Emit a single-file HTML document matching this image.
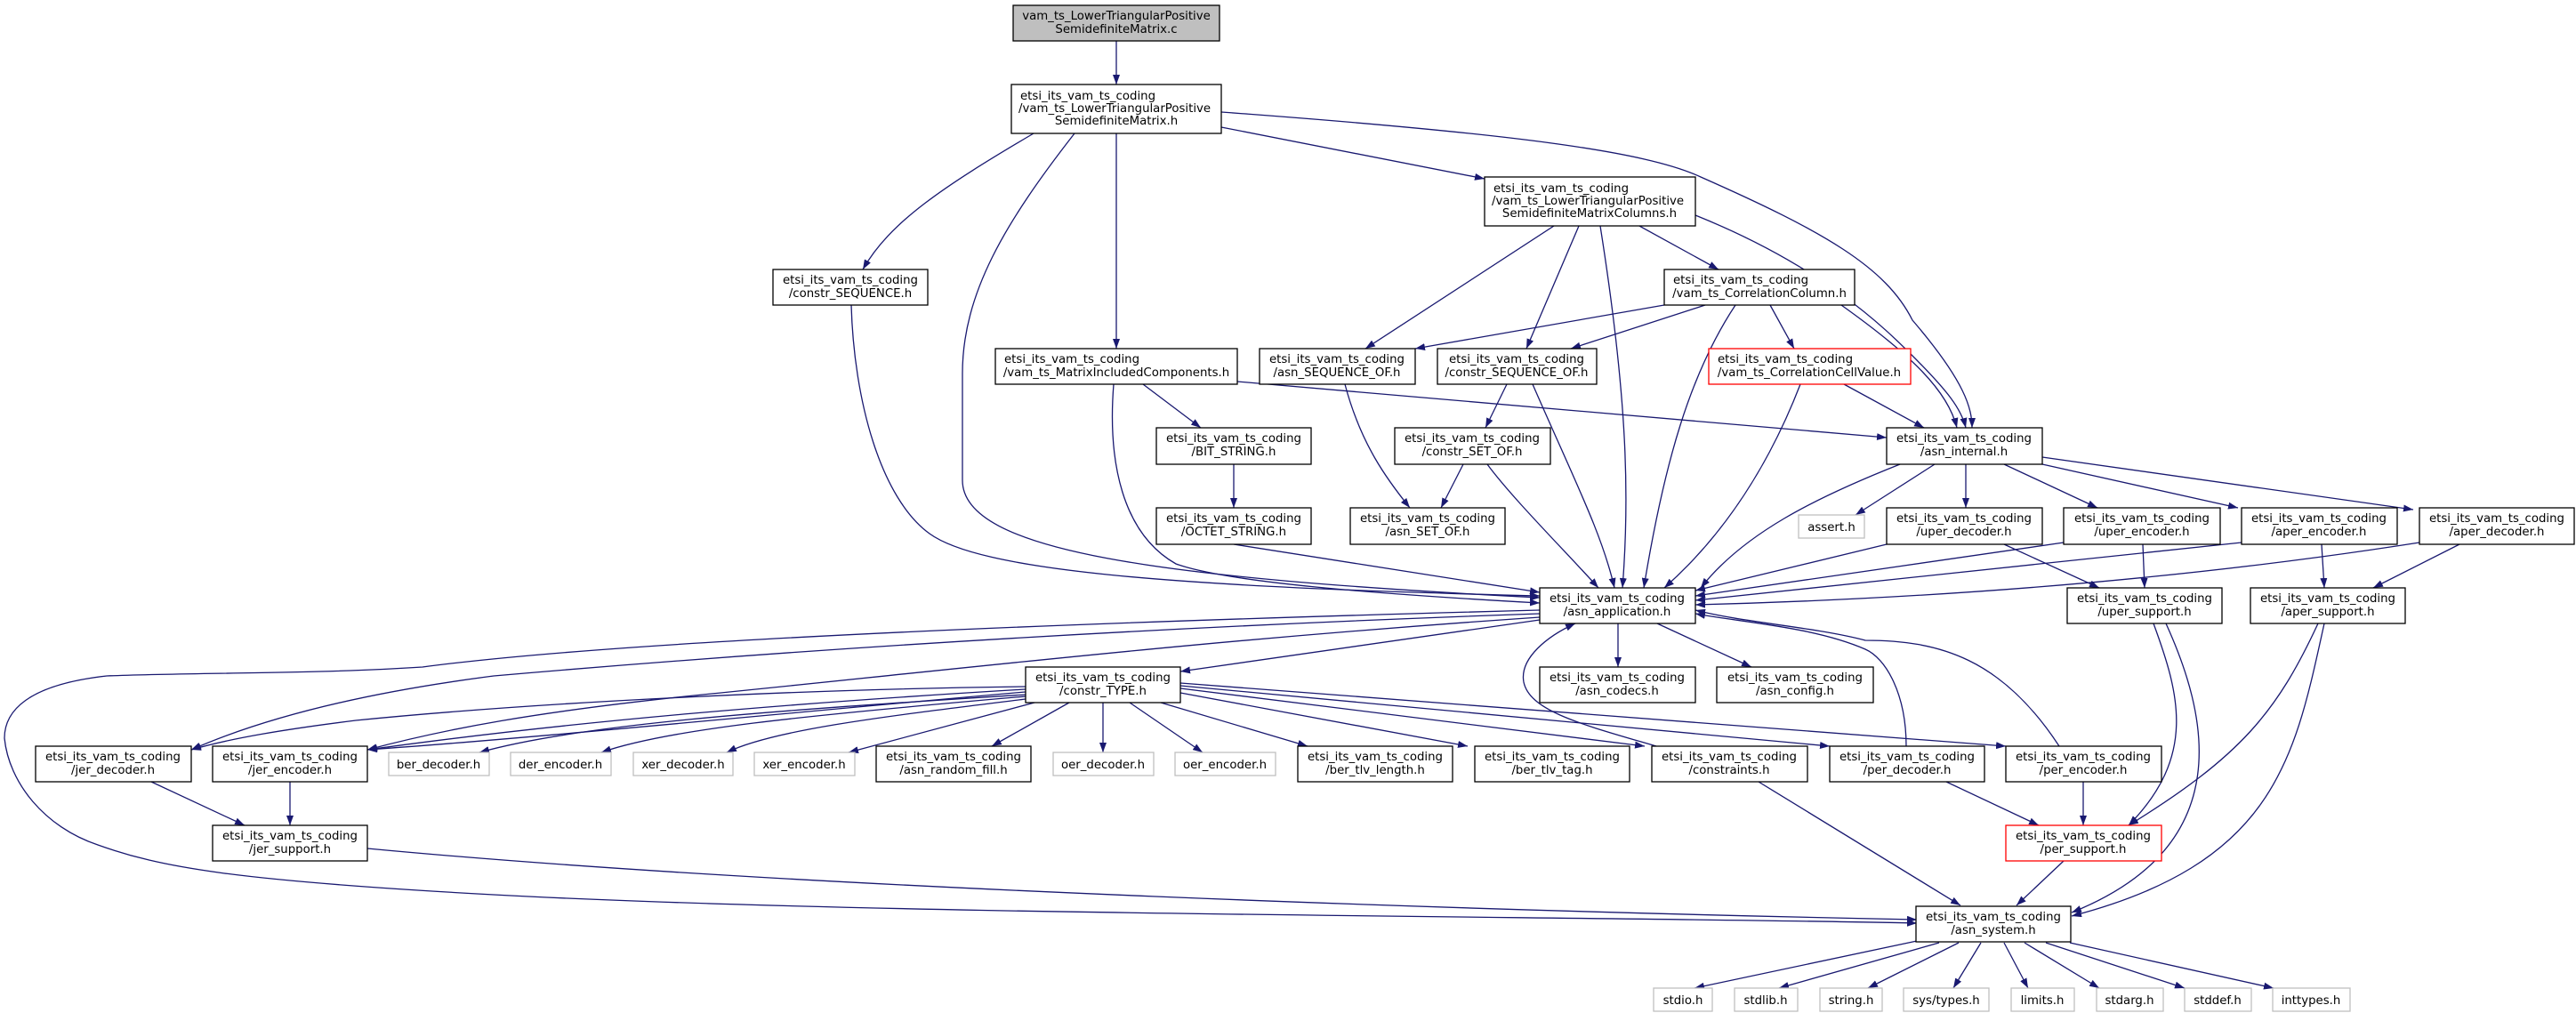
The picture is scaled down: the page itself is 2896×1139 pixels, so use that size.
<!DOCTYPE html>
<html><head><meta charset="utf-8"><style>
html,body{margin:0;padding:0;background:#fff;}
svg{display:block;}
text{font-family:"DejaVu Sans","Liberation Sans",sans-serif;font-size:13.3px;fill:#000;}
.n rect{fill:#fff;stroke:#000;stroke-width:1.3;}
.g rect{fill:#fff;stroke:#bfbfbf;stroke-width:1.3;}
.r rect{fill:#fff;stroke:#ff0000;stroke-width:1.3;}
.e path{fill:none;stroke:#191970;stroke-width:1.3;}
</style></head><body>
<svg width="2896" height="1139" viewBox="0 0 2896 1139" xmlns="http://www.w3.org/2000/svg">
<defs><marker id="a" markerUnits="userSpaceOnUse" markerWidth="11" markerHeight="8" refX="11" refY="4" orient="auto"><path d="M0,0 L11,4 L0,8 z" fill="#191970"/></marker></defs>
<g class="e" marker-end="url(#a)">
<path d="M1255,46 L1255,95" marker-end="url(#a)"/>
<path d="M1162,150 C1060,210 1000,250 970,303" marker-end="url(#a)"/>
<path d="M1208,150 C1130,250 1082,330 1082,420 L1082,540 C1082,620 1300,650 1731,672" marker-end="url(#a)"/>
<path d="M1255,150 L1255,392" marker-end="url(#a)"/>
<path d="M1373,143 L1669,201" marker-end="url(#a)"/>
<path d="M1373,126 C1700,150 1850,170 1912,199 C2050,260 2120,300 2150,360 C2210,430 2217,460 2217,481" marker-end="url(#a)"/>
<path d="M1747,254 L1535,392" marker-end="url(#a)"/>
<path d="M1775,254 L1716,392" marker-end="url(#a)"/>
<path d="M1799,254 C1830,450 1832,560 1824,661" marker-end="url(#a)"/>
<path d="M1843,254 L1932,303" marker-end="url(#a)"/>
<path d="M1906,242 C2050,300 2120,370 2150,400 C2190,440 2205,460 2210,481" marker-end="url(#a)"/>
<path d="M1871,343 L1591,392" marker-end="url(#a)"/>
<path d="M1917,343 L1766,392" marker-end="url(#a)"/>
<path d="M1951,343 C1900,420 1871,520 1848,661" marker-end="url(#a)"/>
<path d="M1990,343 L2017,392" marker-end="url(#a)"/>
<path d="M2070,343 C2150,400 2190,440 2200,481" marker-end="url(#a)"/>
<path d="M2073,432 L2163,481" marker-end="url(#a)"/>
<path d="M2024,432 C1990,520 1940,600 1871,661" marker-end="url(#a)"/>
<path d="M2136,522 C2040,560 1960,600 1912,661" marker-end="url(#a)"/>
<path d="M1672,522 C1700,560 1760,620 1797,661" marker-end="url(#a)"/>
<path d="M1723,432 C1770,540 1801,600 1815,661" marker-end="url(#a)"/>
<path d="M1285,432 L1350,481" marker-end="url(#a)"/>
<path d="M1391,429 L2121,492" marker-end="url(#a)"/>
<path d="M1252,432 C1245,520 1262,600 1322,634 C1380,655 1550,668 1731,678" marker-end="url(#a)"/>
<path d="M1387,522 L1387,571" marker-end="url(#a)"/>
<path d="M1387,612 L1731,666" marker-end="url(#a)"/>
<path d="M957,343 C960,450 990,560 1045,600 C1100,640 1300,660 1731,670" marker-end="url(#a)"/>
<path d="M1512,432 C1530,500 1560,540 1585,571" marker-end="url(#a)"/>
<path d="M1694,432 L1670,481" marker-end="url(#a)"/>
<path d="M1645,522 L1620,571" marker-end="url(#a)"/>
<path d="M2175,522 L2086,579" marker-end="url(#a)"/>
<path d="M2210,522 L2210,571" marker-end="url(#a)"/>
<path d="M2253,522 L2358,571" marker-end="url(#a)"/>
<path d="M2296,522 L2516,571" marker-end="url(#a)"/>
<path d="M2296,514 L2713,573" marker-end="url(#a)"/>
<path d="M2121,612 L1906,664" marker-end="url(#a)"/>
<path d="M2320,610 L1906,670" marker-end="url(#a)"/>
<path d="M2520,610 L1906,675" marker-end="url(#a)"/>
<path d="M2720,610 C2400,660 2100,675 1906,680" marker-end="url(#a)"/>
<path d="M2253,612 L2360,661" marker-end="url(#a)"/>
<path d="M2409,612 L2411,661" marker-end="url(#a)"/>
<path d="M2610,612 L2613,661" marker-end="url(#a)"/>
<path d="M2765,612 L2668,661" marker-end="url(#a)"/>
<path d="M1819,701 L1819,750" marker-end="url(#a)"/>
<path d="M1863,701 L1969,750" marker-end="url(#a)"/>
<path d="M1731,697 L1327,755" marker-end="url(#a)"/>
<path d="M1862,839 C1780,815 1720,800 1713,767 C1708,740 1740,715 1771,701" marker-end="url(#a)"/>
<path d="M2143,839 C2143,780 2120,740 2097,730 C2040,705 1960,700 1906,690" marker-end="url(#a)"/>
<path d="M2315,839 C2250,740 2180,720 2097,720 C2040,705 1960,700 1906,686" marker-end="url(#a)"/>
<path d="M1731,686 C1200,700 700,720 475,750 C350,758 222,756 120,760 C30,770 5,800 5,830 C10,880 50,930 110,950 C180,975 260,990 555,1006 C1000,1030 1800,1030 2155,1038" marker-end="url(#a)"/>
<path d="M1731,690 C1300,705 900,730 555,760 C400,780 290,810 215,843" marker-end="url(#a)"/>
<path d="M1731,694 C1350,720 1100,750 800,780 C600,800 500,820 413,843" marker-end="url(#a)"/>
<path d="M1153,772 C900,775 600,790 400,810 C320,820 260,830 215,843" marker-end="url(#a)"/>
<path d="M1153,775 C900,790 650,810 413,843" marker-end="url(#a)"/>
<path d="M1153,778 C900,800 600,830 413,843" marker-end="url(#a)"/>
<path d="M1153,781 C850,800 650,815 539,846" marker-end="url(#a)"/>
<path d="M1153,783 C900,805 750,820 676,846" marker-end="url(#a)"/>
<path d="M1153,786 C1000,805 870,820 817,846" marker-end="url(#a)"/>
<path d="M1163,790 L954,846" marker-end="url(#a)"/>
<path d="M1202,790 L1115,839" marker-end="url(#a)"/>
<path d="M1240,790 L1240,846" marker-end="url(#a)"/>
<path d="M1270,790 L1352,846" marker-end="url(#a)"/>
<path d="M1305,790 L1470,839" marker-end="url(#a)"/>
<path d="M1327,779 L1650,839" marker-end="url(#a)"/>
<path d="M1327,774 L1849,839" marker-end="url(#a)"/>
<path d="M1327,771 L2057,839" marker-end="url(#a)"/>
<path d="M1327,768 L2255,839" marker-end="url(#a)"/>
<path d="M170,879 L275,928" marker-end="url(#a)"/>
<path d="M326,879 L326,928" marker-end="url(#a)"/>
<path d="M413,954 C900,1000 1700,1025 2155,1034" marker-end="url(#a)"/>
<path d="M1977,879 L2204,1018" marker-end="url(#a)"/>
<path d="M2188,879 L2292,928" marker-end="url(#a)"/>
<path d="M2342,879 L2342,928" marker-end="url(#a)"/>
<path d="M2320,968 L2267,1018" marker-end="url(#a)"/>
<path d="M2421,701 C2450,780 2470,850 2393,928" marker-end="url(#a)"/>
<path d="M2435,701 C2480,800 2520,950 2329,1026" marker-end="url(#a)"/>
<path d="M2606,701 C2560,800 2520,850 2393,928" marker-end="url(#a)"/>
<path d="M2613,701 C2580,850 2560,970 2329,1030" marker-end="url(#a)"/>
<path d="M2155,1058 L1905,1111" marker-end="url(#a)"/>
<path d="M2180,1060 L2000,1111" marker-end="url(#a)"/>
<path d="M2202,1060 L2100,1111" marker-end="url(#a)"/>
<path d="M2227,1060 L2196,1111" marker-end="url(#a)"/>
<path d="M2253,1060 L2280,1111" marker-end="url(#a)"/>
<path d="M2276,1060 L2360,1111" marker-end="url(#a)"/>
<path d="M2300,1060 L2456,1111" marker-end="url(#a)"/>
<path d="M2327,1060 L2556,1111" marker-end="url(#a)"/>
</g>

<g class="n"><rect x="1139" y="6" width="232" height="40" style="fill:#bfbfbf"/><text x="1255" y="22" text-anchor="middle">vam_ts_LowerTriangularPositive</text><text x="1255" y="37" text-anchor="middle">SemidefiniteMatrix.c</text></g>
<g class="n"><rect x="1137" y="95" width="236" height="55"/><text x="1147" y="112">etsi_its_vam_ts_coding</text><text x="1145" y="126">/vam_ts_LowerTriangularPositive</text><text x="1255" y="140" text-anchor="middle">SemidefiniteMatrix.h</text></g>
<g class="n"><rect x="1669" y="199" width="237" height="55"/><text x="1679" y="216">etsi_its_vam_ts_coding</text><text x="1677" y="230">/vam_ts_LowerTriangularPositive</text><text x="1787" y="244" text-anchor="middle">SemidefiniteMatrixColumns.h</text></g>

<g class="n"><rect x="869" y="303" width="174" height="40"/><text x="956" y="319" text-anchor="middle">etsi_its_vam_ts_coding</text><text x="956" y="334" text-anchor="middle">/constr_SEQUENCE.h</text></g>
<g class="n"><rect x="1871" y="303" width="214" height="40"/><text x="1881" y="319">etsi_its_vam_ts_coding</text><text x="1978" y="334" text-anchor="middle">/vam_ts_CorrelationColumn.h</text></g>
<g class="n"><rect x="1119" y="392" width="272" height="40"/><text x="1129" y="408">etsi_its_vam_ts_coding</text><text x="1255" y="423" text-anchor="middle">/vam_ts_MatrixIncludedComponents.h</text></g>
<g class="n"><rect x="1416" y="392" width="175" height="40"/><text x="1503" y="408" text-anchor="middle">etsi_its_vam_ts_coding</text><text x="1503" y="423" text-anchor="middle">/asn_SEQUENCE_OF.h</text></g>
<g class="n"><rect x="1616" y="392" width="179" height="40"/><text x="1705" y="408" text-anchor="middle">etsi_its_vam_ts_coding</text><text x="1705" y="423" text-anchor="middle">/constr_SEQUENCE_OF.h</text></g>
<g class="r"><rect x="1921" y="392" width="227" height="40"/><text x="1931" y="408">etsi_its_vam_ts_coding</text><text x="2034" y="423" text-anchor="middle">/vam_ts_CorrelationCellValue.h</text></g>

<g class="n"><rect x="1300" y="481" width="174" height="41"/><text x="1387" y="497" text-anchor="middle">etsi_its_vam_ts_coding</text><text x="1387" y="512" text-anchor="middle">/BIT_STRING.h</text></g>
<g class="n"><rect x="1568" y="481" width="175" height="41"/><text x="1655" y="497" text-anchor="middle">etsi_its_vam_ts_coding</text><text x="1655" y="512" text-anchor="middle">/constr_SET_OF.h</text></g>
<g class="n"><rect x="2121" y="481" width="175" height="41"/><text x="2208" y="497" text-anchor="middle">etsi_its_vam_ts_coding</text><text x="2208" y="512" text-anchor="middle">/asn_internal.h</text></g>

<g class="n"><rect x="1300" y="571" width="174" height="41"/><text x="1387" y="587" text-anchor="middle">etsi_its_vam_ts_coding</text><text x="1387" y="602" text-anchor="middle">/OCTET_STRING.h</text></g>
<g class="n"><rect x="1518" y="571" width="174" height="41"/><text x="1605" y="587" text-anchor="middle">etsi_its_vam_ts_coding</text><text x="1605" y="602" text-anchor="middle">/asn_SET_OF.h</text></g>
<g class="g"><rect x="2022" y="579" width="74" height="26"/><text x="2059" y="597" text-anchor="middle">assert.h</text></g>
<g class="n"><rect x="2121" y="571" width="175" height="41"/><text x="2208" y="587" text-anchor="middle">etsi_its_vam_ts_coding</text><text x="2208" y="602" text-anchor="middle">/uper_decoder.h</text></g>
<g class="n"><rect x="2320" y="571" width="176" height="41"/><text x="2408" y="587" text-anchor="middle">etsi_its_vam_ts_coding</text><text x="2408" y="602" text-anchor="middle">/uper_encoder.h</text></g>
<g class="n"><rect x="2520" y="571" width="175" height="41"/><text x="2607" y="587" text-anchor="middle">etsi_its_vam_ts_coding</text><text x="2607" y="602" text-anchor="middle">/aper_encoder.h</text></g>
<g class="n"><rect x="2720" y="571" width="174" height="41"/><text x="2807" y="587" text-anchor="middle">etsi_its_vam_ts_coding</text><text x="2807" y="602" text-anchor="middle">/aper_decoder.h</text></g>

<g class="n"><rect x="1731" y="661" width="175" height="40"/><text x="1818" y="677" text-anchor="middle">etsi_its_vam_ts_coding</text><text x="1818" y="692" text-anchor="middle">/asn_application.h</text></g>
<g class="n"><rect x="2324" y="661" width="174" height="40"/><text x="2411" y="677" text-anchor="middle">etsi_its_vam_ts_coding</text><text x="2411" y="692" text-anchor="middle">/uper_support.h</text></g>
<g class="n"><rect x="2530" y="661" width="174" height="40"/><text x="2617" y="677" text-anchor="middle">etsi_its_vam_ts_coding</text><text x="2617" y="692" text-anchor="middle">/aper_support.h</text></g>

<g class="n"><rect x="1153" y="750" width="174" height="40"/><text x="1240" y="766" text-anchor="middle">etsi_its_vam_ts_coding</text><text x="1240" y="781" text-anchor="middle">/constr_TYPE.h</text></g>
<g class="n"><rect x="1731" y="750" width="175" height="40"/><text x="1818" y="766" text-anchor="middle">etsi_its_vam_ts_coding</text><text x="1818" y="781" text-anchor="middle">/asn_codecs.h</text></g>
<g class="n"><rect x="1930" y="750" width="176" height="40"/><text x="2018" y="766" text-anchor="middle">etsi_its_vam_ts_coding</text><text x="2018" y="781" text-anchor="middle">/asn_config.h</text></g>

<g class="n"><rect x="40" y="839" width="175" height="40"/><text x="127" y="855" text-anchor="middle">etsi_its_vam_ts_coding</text><text x="127" y="870" text-anchor="middle">/jer_decoder.h</text></g>
<g class="n"><rect x="239" y="839" width="174" height="40"/><text x="326" y="855" text-anchor="middle">etsi_its_vam_ts_coding</text><text x="326" y="870" text-anchor="middle">/jer_encoder.h</text></g>
<g class="g"><rect x="437" y="846" width="113" height="26"/><text x="493" y="864" text-anchor="middle">ber_decoder.h</text></g>
<g class="g"><rect x="574" y="846" width="113" height="26"/><text x="630" y="864" text-anchor="middle">der_encoder.h</text></g>
<g class="g"><rect x="712" y="846" width="112" height="26"/><text x="768" y="864" text-anchor="middle">xer_decoder.h</text></g>
<g class="g"><rect x="848" y="846" width="113" height="26"/><text x="904" y="864" text-anchor="middle">xer_encoder.h</text></g>
<g class="n"><rect x="985" y="839" width="174" height="40"/><text x="1072" y="855" text-anchor="middle">etsi_its_vam_ts_coding</text><text x="1072" y="870" text-anchor="middle">/asn_random_fill.h</text></g>
<g class="g"><rect x="1184" y="846" width="113" height="26"/><text x="1240" y="864" text-anchor="middle">oer_decoder.h</text></g>
<g class="g"><rect x="1321" y="846" width="113" height="26"/><text x="1377" y="864" text-anchor="middle">oer_encoder.h</text></g>
<g class="n"><rect x="1459" y="839" width="174" height="40"/><text x="1546" y="855" text-anchor="middle">etsi_its_vam_ts_coding</text><text x="1546" y="870" text-anchor="middle">/ber_tlv_length.h</text></g>
<g class="n"><rect x="1658" y="839" width="174" height="40"/><text x="1745" y="855" text-anchor="middle">etsi_its_vam_ts_coding</text><text x="1745" y="870" text-anchor="middle">/ber_tlv_tag.h</text></g>
<g class="n"><rect x="1857" y="839" width="175" height="40"/><text x="1944" y="855" text-anchor="middle">etsi_its_vam_ts_coding</text><text x="1944" y="870" text-anchor="middle">/constraints.h</text></g>
<g class="n"><rect x="2057" y="839" width="174" height="40"/><text x="2144" y="855" text-anchor="middle">etsi_its_vam_ts_coding</text><text x="2144" y="870" text-anchor="middle">/per_decoder.h</text></g>
<g class="n"><rect x="2255" y="839" width="175" height="40"/><text x="2342" y="855" text-anchor="middle">etsi_its_vam_ts_coding</text><text x="2342" y="870" text-anchor="middle">/per_encoder.h</text></g>

<g class="n"><rect x="239" y="928" width="174" height="40"/><text x="326" y="944" text-anchor="middle">etsi_its_vam_ts_coding</text><text x="326" y="959" text-anchor="middle">/jer_support.h</text></g>
<g class="r"><rect x="2255" y="928" width="175" height="40"/><text x="2342" y="944" text-anchor="middle">etsi_its_vam_ts_coding</text><text x="2342" y="959" text-anchor="middle">/per_support.h</text></g>

<g class="n"><rect x="2154" y="1019" width="174" height="40"/><text x="2241" y="1035" text-anchor="middle">etsi_its_vam_ts_coding</text><text x="2241" y="1050" text-anchor="middle">/asn_system.h</text></g>

<g class="g"><rect x="1859" y="1111" width="66" height="26"/><text x="1892" y="1129" text-anchor="middle">stdio.h</text></g>
<g class="g"><rect x="1950" y="1111" width="71" height="26"/><text x="1985" y="1129" text-anchor="middle">stdlib.h</text></g>
<g class="g"><rect x="2046" y="1111" width="70" height="26"/><text x="2081" y="1129" text-anchor="middle">string.h</text></g>
<g class="g"><rect x="2140" y="1111" width="96" height="26"/><text x="2188" y="1129" text-anchor="middle">sys/types.h</text></g>
<g class="g"><rect x="2261" y="1111" width="71" height="26"/><text x="2296" y="1129" text-anchor="middle">limits.h</text></g>
<g class="g"><rect x="2357" y="1111" width="75" height="26"/><text x="2394" y="1129" text-anchor="middle">stdarg.h</text></g>
<g class="g"><rect x="2456" y="1111" width="75" height="26"/><text x="2493" y="1129" text-anchor="middle">stddef.h</text></g>
<g class="g"><rect x="2555" y="1111" width="87" height="26"/><text x="2598" y="1129" text-anchor="middle">inttypes.h</text></g>
</svg>
</body></html>
